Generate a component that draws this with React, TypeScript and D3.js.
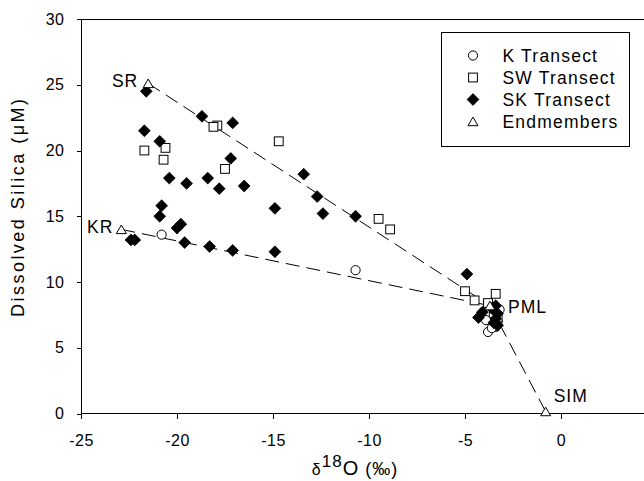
import React, { useEffect, useRef } from "react";
import * as d3 from "d3";

// delta18O (x) vs dissolved silica (y)
const kTransect: [number, number][] = [
  [-20.8, 13.6], [-10.7, 10.9], [-3.8, 6.2], [-3.6, 6.9], [-3.3, 7.0],
  [-3.5, 7.5], [-3.9, 7.1], [-3.4, 6.6], [-3.2, 7.9], [-3.6, 6.5],
];
const swTransect: [number, number][] = [
  [-17.9, 21.9], [-18.1, 21.8], [-14.7, 20.7], [-21.7, 20.0], [-20.6, 20.2],
  [-20.7, 19.3], [-17.5, 18.6], [-9.5, 14.8], [-8.9, 14.0], [-5.0, 9.3],
  [-4.5, 8.6], [-3.4, 9.1], [-3.8, 8.4], [-3.5, 8.0], [-3.3, 7.3],
];
const skTransect: [number, number][] = [
  [-21.6, 24.5], [-18.7, 22.6], [-17.1, 22.1], [-21.7, 21.5], [-20.9, 20.7],
  [-17.2, 19.4], [-20.4, 17.9], [-19.5, 17.5], [-18.4, 17.9], [-17.8, 17.1],
  [-16.5, 17.3], [-20.8, 15.8], [-20.9, 15.0], [-20.0, 14.1], [-19.8, 14.4],
  [-22.4, 13.2], [-22.2, 13.2], [-19.6, 13.0], [-18.3, 12.7], [-17.1, 12.4],
  [-14.9, 12.3], [-14.9, 15.6], [-13.4, 18.2], [-12.7, 16.5], [-12.4, 15.2],
  [-10.7, 15.0], [-4.9, 10.6], [-4.3, 7.3], [-4.1, 7.7], [-3.4, 8.2],
  [-3.3, 7.6], [-3.4, 7.2], [-3.5, 6.9], [-3.3, 6.7], [-3.6, 8.0],
];
const endmemberNames = ["SR", "KR", "PML", "SIM"];
const endmemberX = [-21.5, -22.9, -3.7, -0.8];
const endmemberY = [25.1, 14.0, 8.2, 0.15];
const mixingLines = [["SR", "PML"], ["KR", "PML"], ["PML", "SIM"]];

const xTicks = [-25, -20, -15, -10, -5, 0];
const yTicks = [0, 5, 10, 15, 20, 25, 30];
const legendLabels = ["K Transect", "SW Transect", "SK Transect", "Endmembers"];

const font = "'Liberation Sans', Arial, sans-serif";

// where each endmember label sits relative to its triangle
const labelPlacement: Record<string, { dx: number; dy: number; anchor: string }> = {
  SR: { dx: -10, dy: 3.5, anchor: "end" },
  KR: { dx: -8, dy: 4, anchor: "end" },
  PML: { dx: 18, dy: 7.5, anchor: "start" },
  SIM: { dx: 8, dy: -9.5, anchor: "start" },
};

const diamondPath = (r: number) => `M0,${-r}L${r},0L0,${r}L${-r},0Z`;
const trianglePath = "M0,-4.4L5,4.2L-5,4.2Z";

function drawMarker(g: any, kind: string, px: number, py: number) {
  if (kind === "circle") {
    g.append("circle").attr("cx", px).attr("cy", py).attr("r", 4.6)
      .attr("fill", "#fff").attr("stroke", "#000").attr("stroke-width", 1);
  } else if (kind === "square") {
    g.append("rect").attr("x", px - 4.4).attr("y", py - 4.4).attr("width", 8.8).attr("height", 8.8)
      .attr("fill", "#fff").attr("stroke", "#000").attr("stroke-width", 1);
  } else if (kind === "diamond") {
    g.append("path").attr("d", diamondPath(5.9)).attr("transform", `translate(${px},${py})`)
      .attr("fill", "#000").attr("stroke", "#000").attr("stroke-width", 0.8);
  } else {
    g.append("path").attr("d", trianglePath).attr("transform", `translate(${px},${py})`)
      .attr("fill", "#fff").attr("stroke", "#000").attr("stroke-width", 1);
  }
}

export default function App() {
  const chartRef = useRef<SVGSVGElement>(null);

  useEffect(() => {
    const svg = d3.select(chartRef.current);
    svg.selectAll("*").remove();

    const x = d3.scaleLinear().domain([-25, 0]).range([81, 561]);
    const y = d3.scaleLinear().domain([0, 30]).range([413.5, 19]);
    const x0 = x(-25);
    const right = 644;

    // frame: left axis, top line, bottom axis (plot runs off the right edge)
    const frame = svg.append("g").attr("stroke", "#000").attr("stroke-width", 1).attr("shape-rendering", "crispEdges");
    frame.append("line").attr("x1", x0).attr("x2", right).attr("y1", y(30)).attr("y2", y(30));
    frame.append("line").attr("x1", x0).attr("x2", right).attr("y1", y(0)).attr("y2", y(0));
    frame.append("line").attr("x1", x0).attr("x2", x0).attr("y1", y(0)).attr("y2", y(30));

    const yAxis = svg.append("g").attr("transform", `translate(${x0},0)`)
      .call(d3.axisLeft(y).tickValues(yTicks).tickSize(4.5).tickPadding(12).tickFormat(d3.format("d")));
    const xAxis = svg.append("g").attr("transform", `translate(0,${y(0)})`)
      .call(d3.axisBottom(x).tickValues(xTicks).tickSize(5.5).tickPadding(16).tickFormat(d3.format("d")));
    [yAxis, xAxis].forEach((ax) => {
      ax.select(".domain").remove();
      ax.selectAll("line").attr("stroke", "#000").attr("shape-rendering", "crispEdges");
      ax.selectAll("text").attr("fill", "#000").style("font-family", font).style("font-size", "16px")
        .style("letter-spacing", "0.5px");
    });
    xAxis.selectAll("text").text((d: any) => (d < 0 ? "-" + Math.abs(d) : String(d)));

    // dashed mixing lines between endmembers
    const em = (name: string) => {
      const i = endmemberNames.indexOf(name);
      return [x(endmemberX[i]), y(endmemberY[i])] as [number, number];
    };
    const line = d3.line();
    svg.append("g").selectAll("path").data(mixingLines).enter().append("path")
      .attr("d", (d) => line([em(d[0]), em(d[1])]))
      .attr("fill", "none").attr("stroke", "#000").attr("stroke-width", 1)
      .attr("stroke-dasharray", "14,7");

    const marks = svg.append("g");
    kTransect.forEach((d) => drawMarker(marks, "circle", x(d[0]), y(d[1])));
    swTransect.forEach((d) => drawMarker(marks, "square", x(d[0]), y(d[1])));
    skTransect.forEach((d) => drawMarker(marks, "diamond", x(d[0]), y(d[1])));
    endmemberNames.forEach((n, i) => drawMarker(marks, "triangle", x(endmemberX[i]), y(endmemberY[i])));

    endmemberNames.forEach((n, i) => {
      const p = labelPlacement[n];
      svg.append("text").attr("x", x(endmemberX[i]) + p.dx).attr("y", y(endmemberY[i]) + p.dy)
        .attr("text-anchor", p.anchor).style("font-family", font).style("font-size", "17.5px")
        .style("letter-spacing", "1px").text(n);
    });

    // legend
    const legend = svg.append("g");
    legend.append("rect").attr("x", 441).attr("y", 32).attr("width", 188).attr("height", 114)
      .attr("fill", "#fff").attr("stroke", "#000").attr("stroke-width", 1).attr("shape-rendering", "crispEdges");
    const kinds = ["circle", "square", "diamond", "triangle"];
    legendLabels.forEach((lab, i) => {
      const ly = 55.5 + i * 22;
      drawMarker(legend, kinds[i], 473, ly);
      legend.append("text").attr("x", 502.5).attr("y", ly + 6)
        .style("font-family", font).style("font-size", "17.5px").style("letter-spacing", "1.2px").text(lab);
    });

    // axis titles
    svg.append("text").attr("transform", "translate(24,208) rotate(-90)")
      .attr("text-anchor", "middle").attr("textLength", 218).attr("lengthAdjust", "spacing")
      .style("font-family", font).style("font-size", "18px").text("Dissolved Silica (μM)");

    const xt = svg.append("text").attr("x", 355).attr("y", 475).attr("text-anchor", "middle")
      .style("font-family", font).style("font-size", "18px").style("letter-spacing", "1px");
    xt.append("tspan").style("font-size", "16px").text("δ");
    xt.append("tspan").attr("dy", -8).style("font-size", "17px").text("18");
    xt.append("tspan").attr("dy", 8).style("font-size", "20px").text("O");
    xt.append("tspan").style("font-size", "18px").text(" (‰)");
  }, []);

  return (
    <svg ref={chartRef} width={644} height={481}
      style={{ position: "absolute", left: 0, top: 0, background: "#fff" }} />
  );
}
